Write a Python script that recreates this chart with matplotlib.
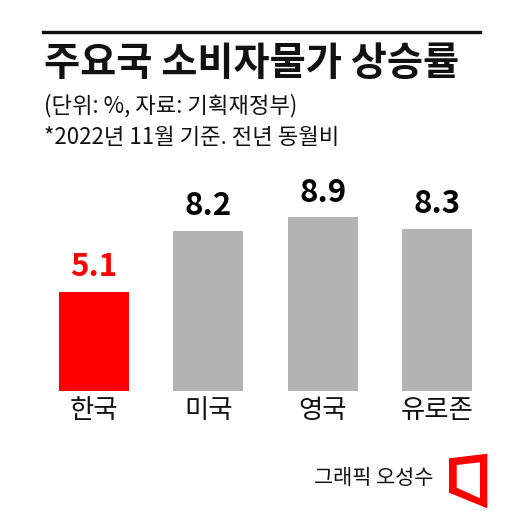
import matplotlib
matplotlib.use('Agg')
import matplotlib.pyplot as plt
from matplotlib.patches import Polygon
from matplotlib.lines import Line2D

plt.rcParams['font.family'] = ['Noto Sans CJK KR', 'DejaVu Sans']

# 데이터
countries = ['한국', '미국', '영국', '유로존']
values = [5.1, 8.2, 8.9, 8.3]
colors = ['#ff0000', '#b3b3b3', '#b3b3b3', '#b3b3b3']
label_colors = ['#ff0000', '#000000', '#000000', '#000000']

W, H = 531, 511
fig = plt.figure(figsize=(W / 100, H / 100), dpi=100)

def fx(px): return px / W
def fy(py): return 1 - py / H

# 상단 선 + 제목
fig.add_artist(Line2D([fx(43), fx(480)], [fy(32), fy(32)], color='#111111', linewidth=2.4))
fig.text(fx(44), fy(63), '주요국 소비자물가 상승률', fontsize=28.3, fontweight='bold',
         va='center', ha='left', color='#111111')
fig.text(fx(44), fy(106), '(단위: %, 자료: 기획재정부)', fontsize=16,
         va='center', ha='left', color='#111111')
fig.text(fx(44), fy(137), '*2022년 11월 기준. 전년 동월비', fontsize=16,
         va='center', ha='left', color='#111111')

# 막대 그래프
ax = fig.add_axes([fx(36.5), 1 - 391 / H, 458 / W, 195 / H])
x = range(len(countries))
ax.bar(x, values, width=0.607, color=colors)
for i, v in enumerate(values):
    ax.text(i, v + 0.45, f'{v}', ha='center', va='bottom', fontsize=22.5,
            fontweight='bold', color=label_colors[i])
ax.set_xlim(-0.5, 3.5)
ax.set_ylim(0, 10)
ax.set_xticks(list(x))
ax.set_xticklabels(countries, fontsize=19, color='#111111')
ax.tick_params(axis='x', length=0, pad=4)
ax.set_yticks([])
for s in ax.spines.values():
    s.set_visible(False)
ax.patch.set_alpha(0)

# 하단 크레딧 + 로고
fig.text(fx(314), fy(478), '그래픽 오성수', fontsize=15, va='center', ha='left', color='#111111')
outer = [(449, 458.3), (487.3, 453.7), (487.3, 508.3), (449, 492.7)]
inner = [(456.7, 465), (480, 462.3), (480, 498.3), (456.7, 487.7)]
fig.add_artist(Polygon([(fx(a), fy(b)) for a, b in outer], closed=True,
                       facecolor='#ff0000', edgecolor='none', transform=fig.transFigure))
fig.add_artist(Polygon([(fx(a), fy(b)) for a, b in inner], closed=True,
                       facecolor='white', edgecolor='none', transform=fig.transFigure))

fig.savefig('out.png', dpi=100, facecolor='white')
